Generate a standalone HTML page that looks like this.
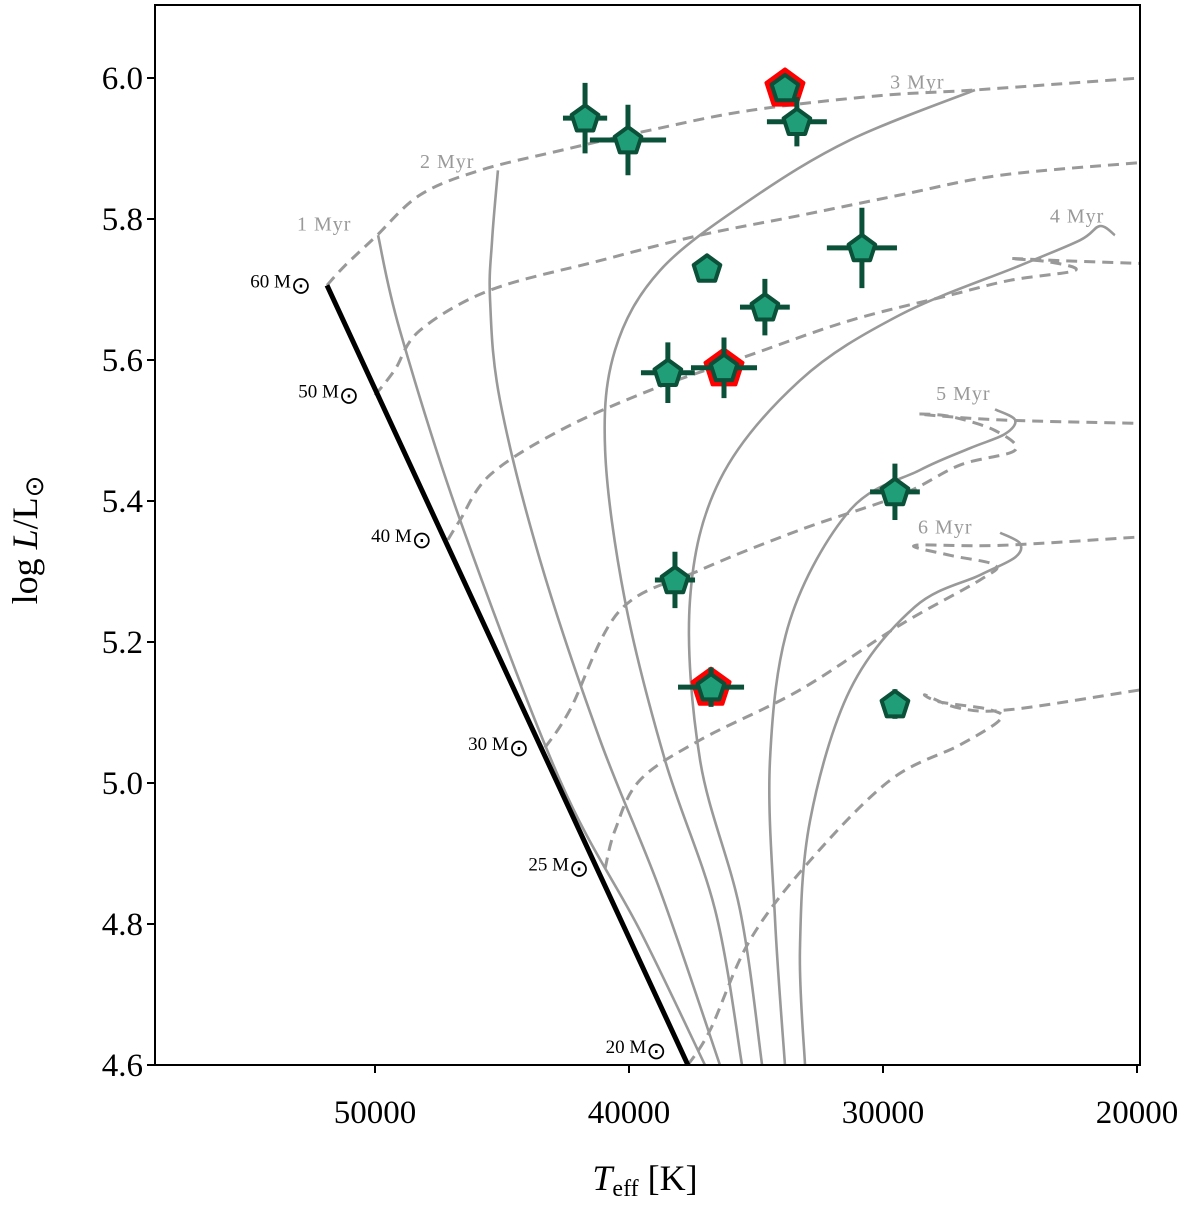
<!DOCTYPE html>
<html><head><meta charset="utf-8"><style>
body{margin:0;background:#fff}
svg{display:block;font-family:"Liberation Serif",serif}
</style></head><body>
<svg id="c" width="1200" height="1205"></svg>
<script>
const ticksT=[50000,40000,30000,20000];
const ticksL=[4.6,4.8,5.0,5.2,5.4,5.6,5.8,6.0];
const zams=[[51890,5.706],[37680,4.6]];
const massNames=["60","50","40","30","25","20"];
const massT=[51890,50000,47130,43310,40940,37900];
const massL=[5.706,5.550,5.345,5.050,4.879,4.620];
const tracks=[
[[51890,5.706],[51180,5.734],[50000,5.774],[48230,5.834],[45870,5.869],[42720,5.897],[39170,5.926],[35240,5.954],[30120,5.975],[26380,5.983],[19880,6.0]],
[[50000,5.550],[49220,5.586],[48230,5.642],[45470,5.699],[41140,5.741],[37200,5.777],[33270,5.805],[29330,5.834],[25390,5.862],[19880,5.880]],
[[47130,5.345],[46650,5.373],[45470,5.437],[42720,5.500],[39170,5.557],[35240,5.607],[31300,5.656],[27360,5.692],[25000,5.713],[22440,5.727],[23430,5.739],[25000,5.744],[23030,5.741],[19880,5.737]],
[[43310,5.050],[42320,5.104],[40350,5.245],[37200,5.302],[33270,5.359],[29330,5.408],[26970,5.451],[24800,5.472],[25590,5.500],[27360,5.520],[28540,5.523],[25390,5.515],[19880,5.510]],
[[40940,4.879],[40550,4.933],[39570,5.004],[37200,5.061],[33270,5.132],[29330,5.224],[26180,5.288],[25590,5.309],[27360,5.323],[28740,5.337],[25390,5.337],[19880,5.349]],
[[37680,4.6],[36800,4.650],[35240,4.777],[32870,4.890],[29720,5.004],[26970,5.054],[25390,5.090],[25790,5.104],[27760,5.115],[28340,5.125],[26970,5.106],[25000,5.104],[19880,5.132]]
];
const isoNames=["1 Myr","2 Myr","3 Myr","4 Myr","5 Myr","6 Myr"];
const isochrones=[
[[49880,5.777],[49020,5.642],[46650,5.373],[42720,5.004],[39570,4.791],[37010,4.6]],
[[45160,5.869],[45390,5.770],[45470,5.685],[45080,5.543],[43500,5.316],[41140,5.061],[38780,4.848],[36420,4.6]],
[[26380,5.983],[31300,5.912],[35240,5.827],[38780,5.727],[40550,5.614],[40940,5.472],[40160,5.259],[38580,5.032],[36610,4.820],[35550,4.6]],
[[20870,5.777],[21460,5.790],[22240,5.770],[24610,5.734],[29330,5.664],[33270,5.571],[36420,5.430],[37600,5.259],[37200,5.032],[35630,4.820],[34760,4.6]],
[[25590,5.530],[24800,5.515],[25200,5.495],[26570,5.475],[28540,5.444],[31300,5.387],[33660,5.231],[34450,5.032],[34250,4.806],[33860,4.6]],
[[25390,5.355],[24610,5.340],[24800,5.320],[26180,5.295],[28740,5.250],[31300,5.132],[32870,4.947],[33270,4.763],[33070,4.6]]
];
const isoLabelT=[53070,48230,29720,23430,27910,28620];
const isoLabelL=[5.784,5.872,5.985,5.795,5.543,5.354];
const starT=[41730,40040,33860,33390,30830,36930,34650,38470,36260,29530,38190,36770,29530];
const starL=[5.943,5.912,5.986,5.938,5.759,5.730,5.675,5.582,5.589,5.413,5.288,5.136,5.112];
const starTerr=[870,1500,0,1180,1380,0,980,1060,1300,980,790,1300,0];
const starLerr=[0.05,0.05,0.015,0.035,0.057,0.017,0.04,0.043,0.043,0.04,0.04,0.028,0.021];
const starRed=[0,0,1,0,0,0,0,0,1,0,0,1,0];

const X0=155,X1=1140,Y0=5,Y1=1065;
const x=T=>1137-(T-20000)*0.0254;
const y=L=>1065-(L-4.6)*705;
const svg=document.getElementById('c');
const NS='http://www.w3.org/2000/svg';
function mk(t,a,p){const e=document.createElementNS(NS,t);for(const k in a)e.setAttribute(k,a[k]);(p||svg).appendChild(e);return e;}
function smooth(pts){const P=pts.map(p=>[x(p[0]),y(p[1])]);let d='M'+P[0][0]+','+P[0][1];
for(let i=0;i<P.length-1;i++){const p0=P[Math.max(0,i-1)],p1=P[i],p2=P[i+1],p3=P[Math.min(P.length-1,i+2)];
d+=' C'+(p1[0]+(p2[0]-p0[0])/6)+','+(p1[1]+(p2[1]-p0[1])/6)+' '+(p2[0]-(p3[0]-p1[0])/6)+','+(p2[1]-(p3[1]-p1[1])/6)+' '+p2[0]+','+p2[1];}return d;}
const clip=mk('clipPath',{id:'cp'});mk('rect',{x:X0,y:Y0,width:X1-X0,height:Y1-Y0},clip);
const g=mk('g',{'clip-path':'url(#cp)'});
tracks.forEach((t,i)=>{const p=mk('path',{d:smooth(t),fill:'none',stroke:'#999','stroke-width':3,'stroke-dasharray':'11,7'},g);

});
isochrones.forEach((t,i)=>{const p=mk('path',{d:smooth(t),fill:'none',stroke:'#999','stroke-width':2.6},g);

});
const zl=mk('line',{x1:x(zams[0][0]),y1:y(zams[0][1]),x2:x(zams[1][0]),y2:y(zams[1][1]),stroke:'#000','stroke-width':5},g);


isoNames.forEach((n,i)=>{const t=mk('text',{x:x(isoLabelT[i]),y:y(isoLabelL[i]),fill:'#999','font-size':20,'letter-spacing':1},svg);t.textContent=n;

});
massNames.forEach((n,i)=>{const t=mk('text',{x:x(massT[i])-16,y:y(massL[i])+2,'text-anchor':'end','font-size':19},svg);
t.innerHTML=n+' M<tspan font-size="24" dy="6">⊙</tspan>';

});
function pent(cx,cy,r){let s=[];for(let k=0;k<5;k++){const a=-Math.PI/2+k*2*Math.PI/5;s.push((cx+r*Math.cos(a)).toFixed(1)+','+(cy+r*Math.sin(a)).toFixed(1));}return s.join(' ');}
starT.forEach((T,i)=>{const cx=x(T),cy=y(starL[i]);const sg=mk('g',{},svg);


if(starRed[i])mk('polygon',{points:pent(cx,cy+1,20),fill:'#f00',stroke:'#f00','stroke-width':3,'stroke-linejoin':'round'},sg);
const dx=starTerr[i]*0.0254,dy=starLerr[i]*705;
if(dx>0)mk('line',{x1:cx-dx,y1:cy,x2:cx+dx,y2:cy,stroke:'#0b5038','stroke-width':5},sg);
if(dy>0)mk('line',{x1:cx,y1:cy-dy,x2:cx,y2:cy+dy,stroke:'#0b5038','stroke-width':5},sg);
mk('polygon',{points:pent(cx,cy+1,14),fill:'#1f9e78',stroke:'#0b5038','stroke-width':4,'stroke-linejoin':'round'},sg);});
const fr=mk('rect',{x:X0,y:Y0,width:X1-X0,height:Y1-Y0,fill:'none',stroke:'#000','stroke-width':2});


ticksT.forEach(T=>{const px=x(T);mk('line',{x1:px,y1:Y1,x2:px,y2:Y1+8,stroke:'#000','stroke-width':2});
const t=mk('text',{x:px,y:Y1+58,'text-anchor':'middle','font-size':33});t.textContent=T;

});
ticksL.forEach(L=>{const py=y(L);mk('line',{x1:X0-8,y1:py,x2:X0,y2:py,stroke:'#000','stroke-width':2});
const t=mk('text',{x:X0-12,y:py+11,'text-anchor':'end','font-size':33});t.textContent=L.toFixed(1);

});
const xt=mk('text',{x:645,y:1190,'text-anchor':'middle','font-size':36});
xt.innerHTML='<tspan font-style="italic">T</tspan><tspan font-size="24" dy="6">eff</tspan><tspan dy="-6"> [K]</tspan>';


const yt=mk('text',{x:0,y:0,'text-anchor':'middle','font-size':36,transform:'translate(37,540) rotate(-90)'});
yt.innerHTML='log <tspan font-style="italic">L</tspan>/L<tspan font-size="26" dy="6">⊙</tspan>';


</script>
</body></html>
